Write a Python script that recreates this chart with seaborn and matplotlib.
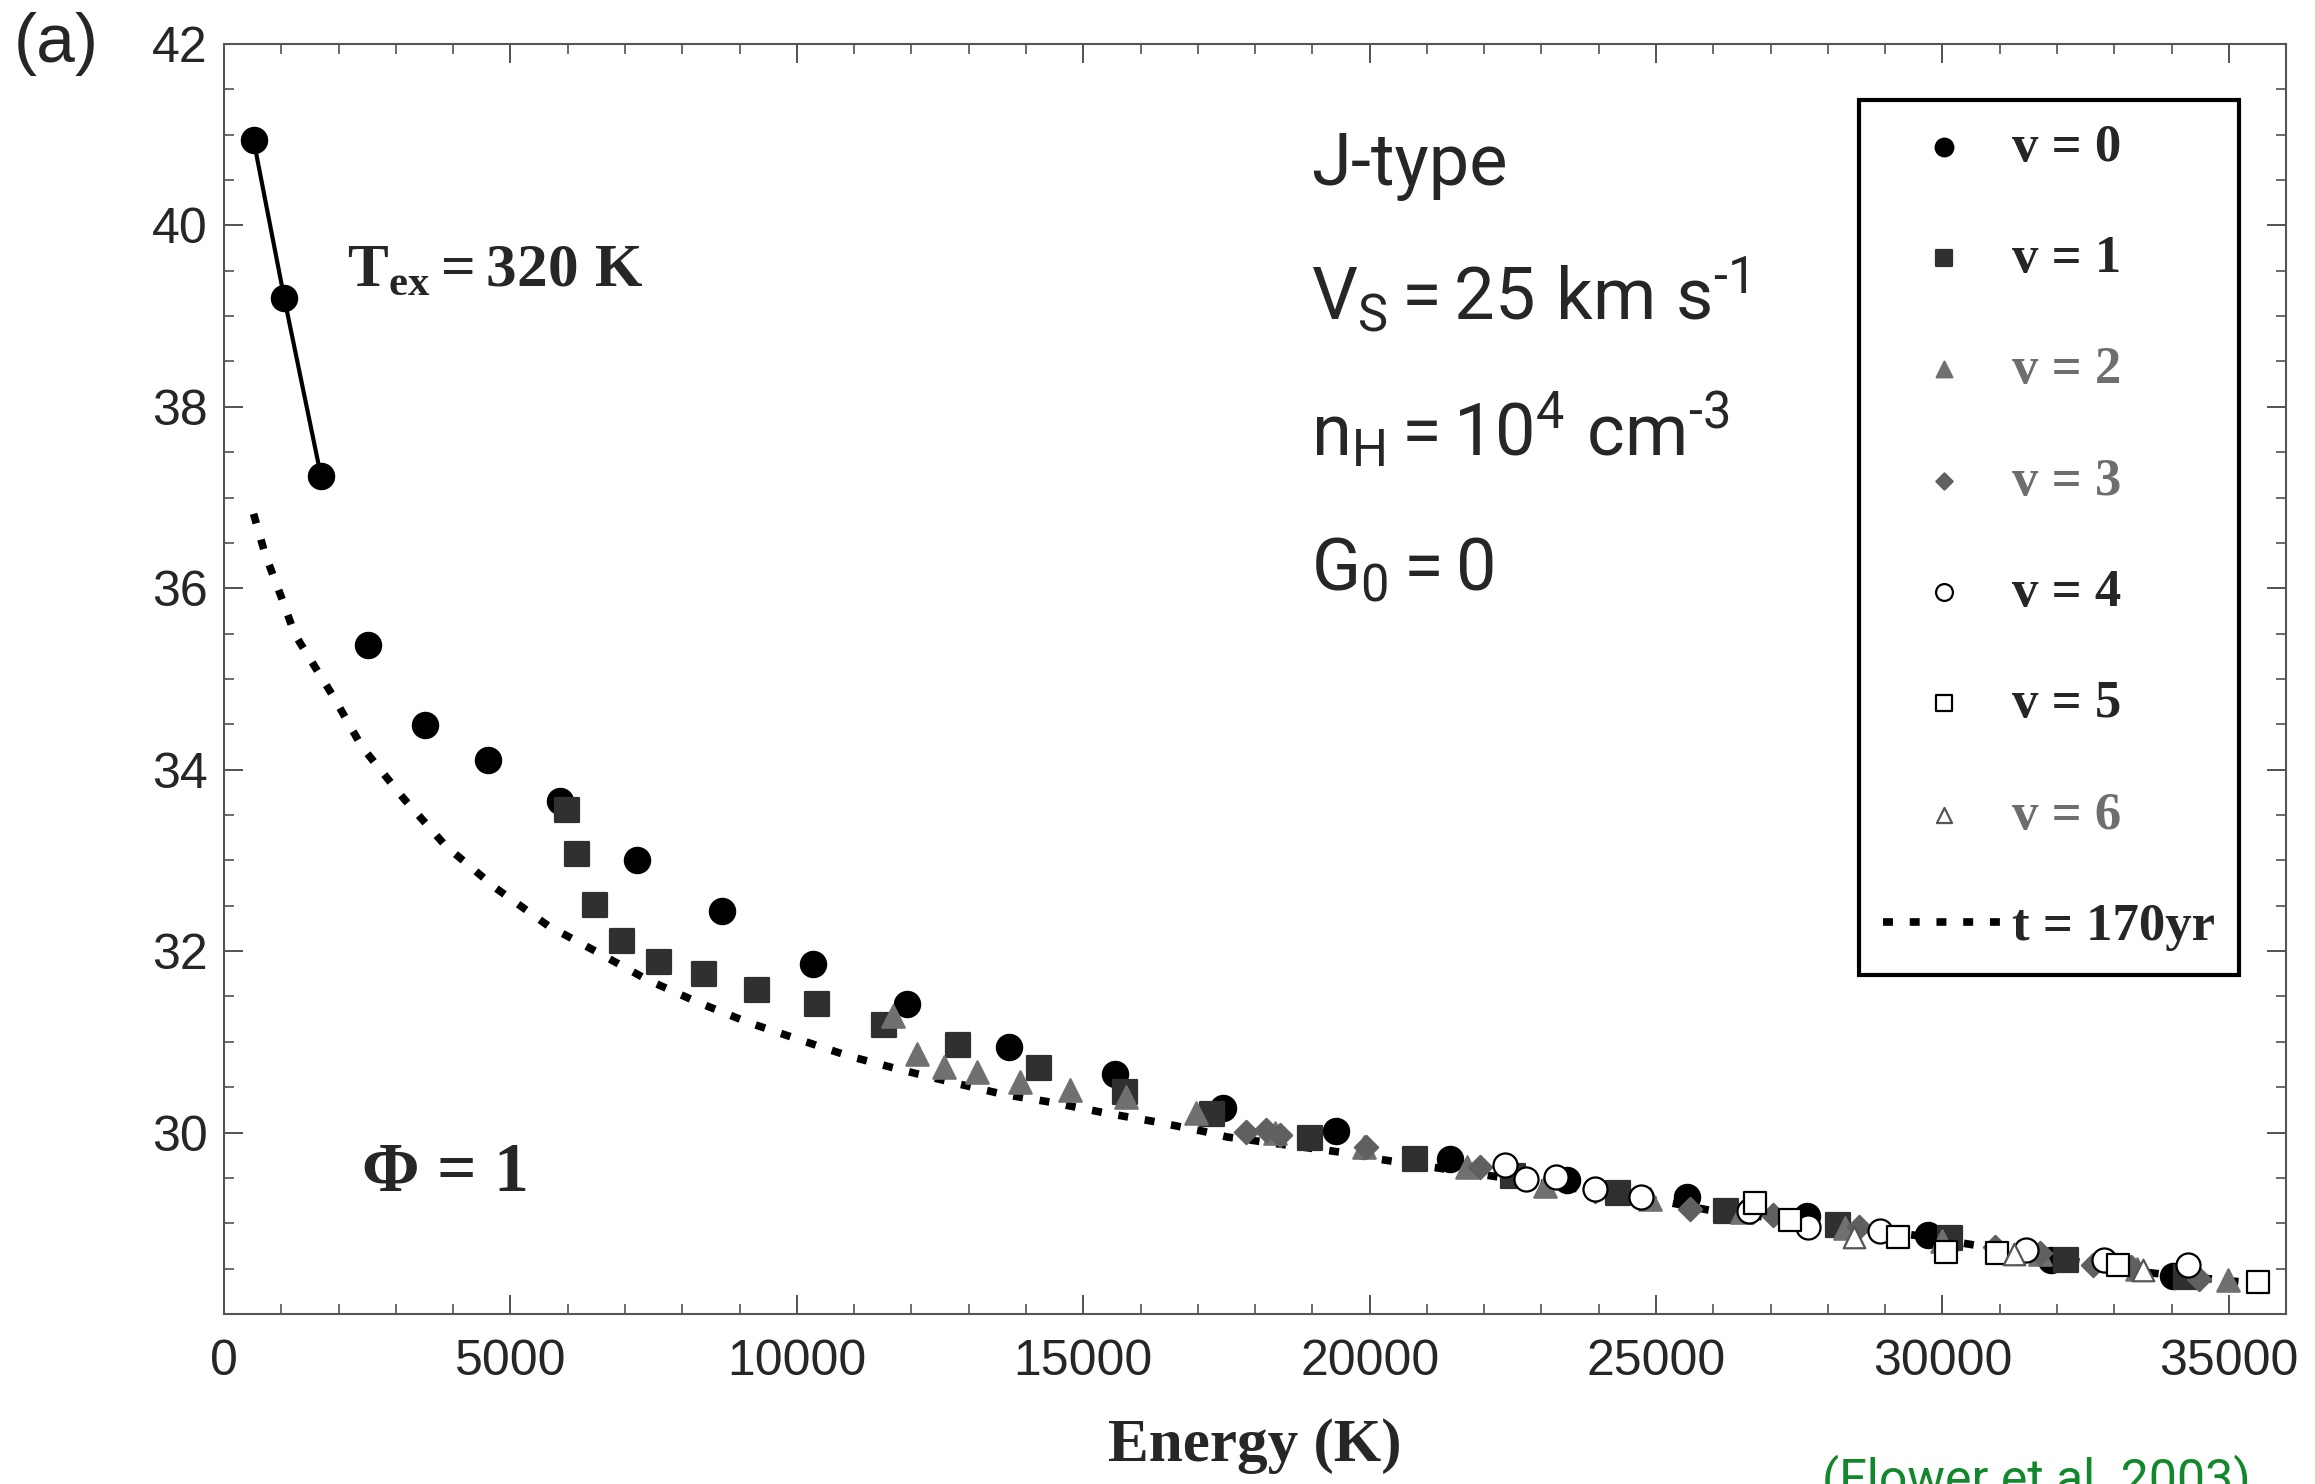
import numpy as np
import seaborn as sns
import matplotlib.pyplot as plt
from matplotlib.ticker import MultipleLocator

# Level energies (K) and column densities, one pair of lists per v
v0_E = [515, 1050, 1690, 2512, 3514, 4608, 5859, 7209, 8700, 10275, 11922, 13700,
        15563, 17437, 19410, 21410, 23440, 25545, 27640, 29750, 31900, 34030]
v0_y = [40.94, 39.20, 37.24, 35.37, 34.49, 34.11, 33.65, 33.00, 32.44, 31.86, 31.42, 30.94,
        30.65, 30.27, 30.02, 29.71, 29.48, 29.29, 29.08, 28.87, 28.60, 28.42]

v1_E = [5987, 6161, 6483, 6954, 7592, 8373, 9303, 10350, 11515, 12813, 14226, 15722,
        17250, 18960, 20786, 22500, 24335, 26226, 28175, 30129, 32161, 34255]
v1_y = [33.56, 33.07, 32.51, 32.11, 31.88, 31.75, 31.57, 31.42, 31.18, 30.96, 30.71, 30.45,
        30.20, 29.94, 29.71, 29.52, 29.33, 29.14, 28.98, 28.84, 28.59, 28.41]

v2_E = [11678, 12097, 12563, 13144, 13890, 14774, 15751, 16974, 18350, 19900, 21700,
        23057, 24900, 26500, 28300, 30000, 31700, 33400, 34983]
v2_y = [31.28, 30.87, 30.72, 30.67, 30.56, 30.47, 30.39, 30.21, 30.00, 29.84, 29.62,
        29.41, 29.27, 29.12, 28.95, 28.80, 28.66, 28.50, 28.37]

v3_E = [17847, 18196, 18429, 19940, 21920, 23927, 25586, 27040, 28552, 30925, 31696,
        32626, 33295, 34488]
v3_y = [30.01, 30.03, 29.97, 29.84, 29.62, 29.35, 29.16, 29.09, 28.96, 28.74, 28.67,
        28.54, 28.52, 28.39]

v4_E = [22357, 22734, 23260, 23927, 24742, 26632, 27652, 28902, 31463, 32830, 34284]
v4_y = [29.64, 29.49, 29.51, 29.38, 29.29, 29.14, 28.96, 28.91, 28.70, 28.59, 28.54]

v5_E = [26720, 27331, 29222, 30070, 30954, 33063, 35506]
v5_y = [29.22, 29.03, 28.85, 28.68, 28.67, 28.54, 28.35]

v6_E = [28465, 31250, 33500]
v6_y = [28.85, 28.66, 28.48]

# model curve t = 170 yr
t_E = [515, 714, 1000, 1236, 1913, 2408, 3124, 3868, 4753, 5655, 6510, 7400, 8291,
       9164, 10061, 10922, 11824, 12725, 13610, 14471, 15344, 16246, 17120, 17515,
       19650, 20116, 25125, 25963, 29485, 32399, 33673, 35419]
t_y = [36.82, 36.38, 35.90, 35.49, 34.80, 34.25, 33.69, 33.16, 32.69, 32.28, 31.99,
       31.68, 31.43, 31.21, 31.02, 30.84, 30.69, 30.55, 30.42, 30.33, 30.22, 30.12,
       30.01, 29.95, 29.77, 29.71, 29.24, 29.14, 28.87, 28.57, 28.45, 28.34]

sns.set_style("ticks")
plt.rcParams["font.family"] = ["Liberation Sans", "DejaVu Sans"]
plt.rcParams["mathtext.fontset"] = "custom"
plt.rcParams["mathtext.rm"] = "Roboto"
plt.rcParams["mathtext.it"] = "Roboto:italic"
plt.rcParams["mathtext.bf"] = "Liberation Serif:bold"

fig = plt.figure(figsize=(23.15, 14.84), dpi=100)
ax = fig.add_axes([0.0968, 0.1146, 0.8907, 0.8558])

sns.lineplot(x=t_E, y=t_y, ax=ax, color="black", lw=5.5, sort=False,
             label="t = 170yr", zorder=1)
ax.lines[-1].set_linestyle((0, (1.3, 2.2)))

# T_ex fit line through the first three v=0 levels
sns.lineplot(x=v0_E[:3], y=v0_y[:3], ax=ax, color="black", lw=3, sort=False, zorder=2)

levels = [
    ("v = 0", v0_E, v0_y, "o", "black", "black", 330),
    ("v = 1", v1_E, v1_y, "s", "#303030", "#303030", 290),
    ("v = 2", v2_E, v2_y, "^", "#707070", "#707070", 260),
    ("v = 3", v3_E, v3_y, "D", "#606060", "#606060", 140),
    ("v = 4", v4_E, v4_y, "o", "white", "black", 300),
    ("v = 5", v5_E, v5_y, "s", "white", "black", 260),
    ("v = 6", v6_E, v6_y, "^", "white", "#555555", 240),
]
for lab, e, y, m, fc, ec, s in levels:
    sns.scatterplot(x=e, y=y, ax=ax, marker=m, color=fc, edgecolor=ec, s=s,
                    linewidth=1.6, label=lab, zorder=3)

ax.set_xlim(0, 36000)
ax.set_ylim(28, 42)
ax.set_xticks(np.arange(0, 35001, 5000))
ax.set_yticks(np.arange(30, 43, 2))
ax.xaxis.set_minor_locator(MultipleLocator(1000))
ax.yaxis.set_minor_locator(MultipleLocator(0.5))
ax.tick_params(which="both", direction="in", top=True, right=True, color="#444444")
ax.tick_params(which="major", length=14, width=1.3, labelsize=36)
ax.tick_params(which="minor", length=7, width=1.1)
ax.tick_params(axis="x", pad=18)
ax.tick_params(axis="y", pad=12)
for sp in ax.spines.values():
    sp.set_linewidth(1.5)
    sp.set_color("#555555")

ax.set_xlabel("Energy (K)", fontfamily="Liberation Serif", fontweight="bold",
              fontsize=44, labelpad=24)
ax.set_ylabel("")

handles, labels = ax.get_legend_handles_labels()
want = ["v = 0", "v = 1", "v = 2", "v = 3", "v = 4", "v = 5", "v = 6", "t = 170yr"]
idx = [labels.index(w) for w in want]
leg = ax.legend([handles[i] for i in idx], want, loc="upper right",
                bbox_to_anchor=(0.9772, 0.9559), borderaxespad=0, frameon=True,
                fancybox=False, edgecolor="black", framealpha=1,
                prop={"family": "Liberation Serif", "weight": "bold", "size": 38},
                handlelength=2.3, handletextpad=0.15, labelspacing=1.2,
                borderpad=0.45, markerscale=0.7)
leg.get_frame().set_linewidth(3)
for txt, w in zip(leg.get_texts(), want):
    if w in ("v = 2", "v = 3", "v = 6"):
        txt.set_color("#6e6e6e")

ax.text(2140, 39.34, r"$\mathbf{T}_{\mathbf{ex}}\mathbf{=320\ K}$", fontsize=44,
        va="baseline")
ax.text(2400, 29.36, "Φ = 1", family="Liberation Serif", weight="bold", fontsize=50,
        va="baseline")

ax.text(18970, 40.45, "J-type", family="Roboto", fontsize=52, va="baseline")
ax.text(18970, 38.96, r"$\mathrm{V_S = 25\ km\ s^{\text{-1}}}$", fontsize=52,
        va="baseline")
ax.text(18970, 37.47, r"$\mathrm{n_H = 10^4\ cm^{\text{-3}}}$", fontsize=52,
        va="baseline")
ax.text(18970, 35.98, r"$\mathrm{G_0 = 0}$", fontsize=52, va="baseline")

fig.text(0.006, 0.992, "(a)", fontsize=50, va="top")
fig.text(0.787, -0.0074, "(Flower et al. 2003)", color="#11892b", fontsize=36,
         family="Roboto", va="baseline")

fig.savefig("out.png", dpi=100)
